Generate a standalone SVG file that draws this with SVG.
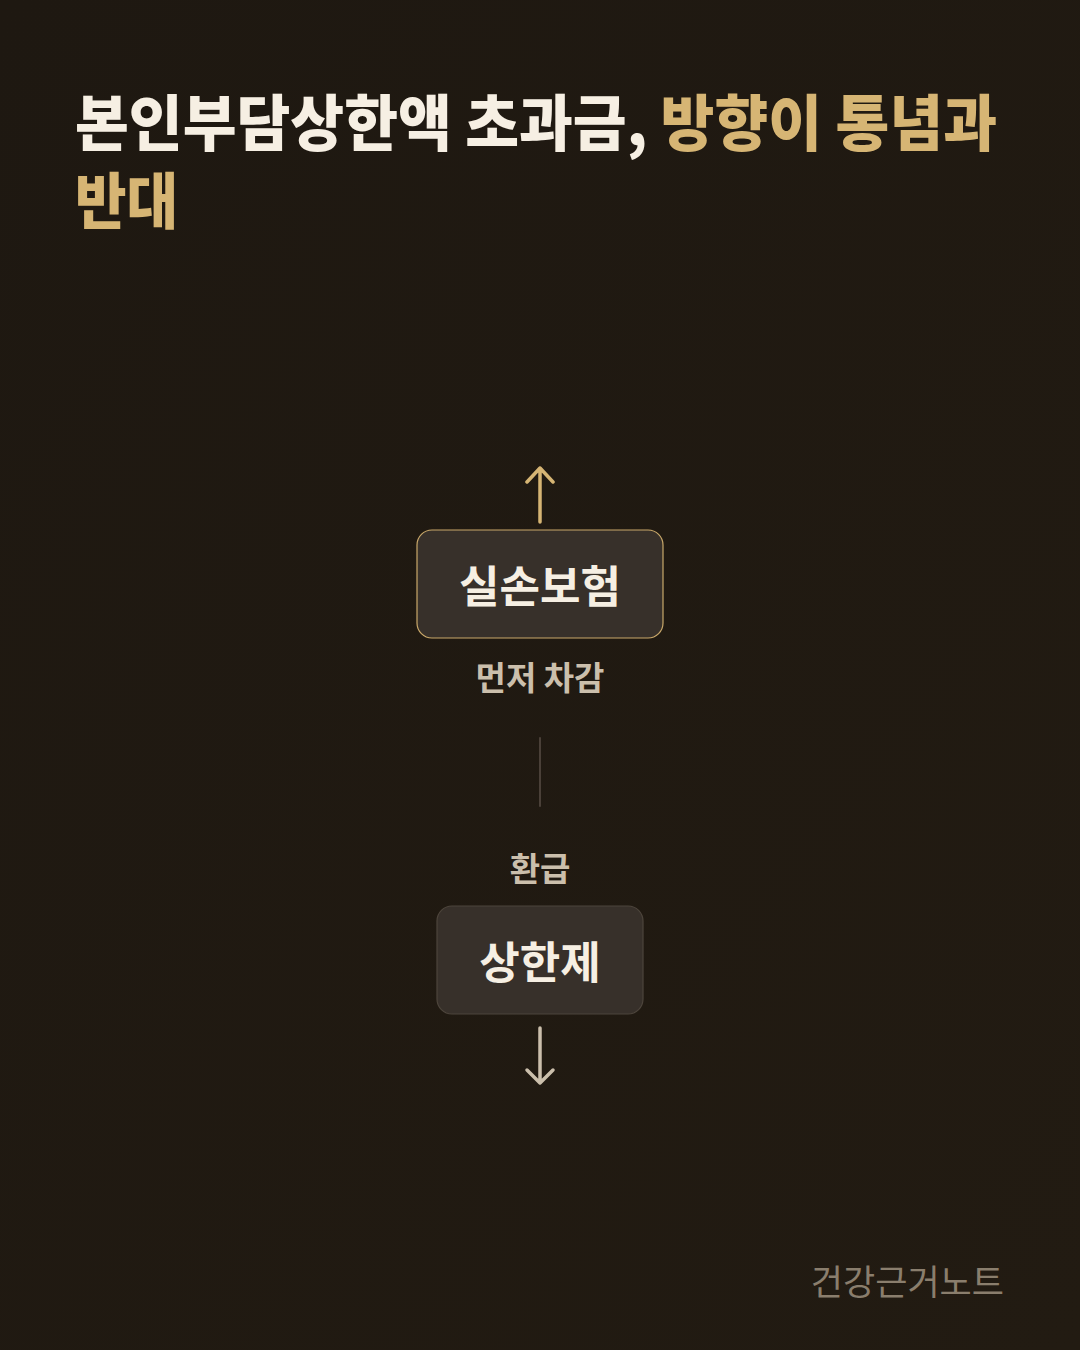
<svg xmlns="http://www.w3.org/2000/svg" width="1080" height="1350" viewBox="0 0 1080 1350">
<defs>
<linearGradient id="bg" x1="0" y1="0" x2="1" y2="1">
<stop offset="0" stop-color="#1e1811"/>
<stop offset="1" stop-color="#221b12"/>
</linearGradient>
<style>
.t{font-family:"Noto Sans CJK KR","Noto Sans",sans-serif;font-weight:900;font-size:61px}
.w{fill:#f6efe3}
.g{fill:#d6b574}
.nl{font-family:"Noto Sans CJK KR","Noto Sans",sans-serif;font-weight:700;font-size:44px;fill:#f6efe3;text-anchor:middle}
.el{font-family:"Noto Sans CJK KR","Noto Sans",sans-serif;font-weight:700;font-size:33px;fill:#cbbfac;text-anchor:middle}
.box{fill:#37302a;stroke-width:1.2}
</style>
</defs>
<rect width="1080" height="1350" fill="url(#bg)"/>
<g id="title">
<text class="t" x="75" y="146" textLength="922" lengthAdjust="spacingAndGlyphs"><tspan class="w">본인부담상한액 초과금, </tspan><tspan class="g">방향이 통념과</tspan></text>
<text class="t g" x="75" y="224" textLength="103" lengthAdjust="spacingAndGlyphs">반대</text>
</g>
<g id="connectors" fill="none" stroke-linecap="round" stroke-linejoin="round">
<path d="M540 522 V468 M527 482 L540 468 L553 482" stroke="#d6b574" stroke-width="3.5"/>
<line x1="540" y1="738" x2="540" y2="806" stroke="#4a4038" stroke-width="2"/>
<path d="M540 1028 V1083 M527 1070 L540 1083 L553 1070" stroke="#cbbfac" stroke-width="3.5"/>
</g>
<g id="node-silson">
<rect class="box" x="417" y="530" width="246" height="108" rx="15" stroke="#c9a86a"/>
<text class="nl" x="540" y="603">실손보험</text>
</g>
<g id="label-first">
<text class="el" x="540" y="690">먼저 차감</text>
</g>
<g id="label-refund">
<text class="el" x="540" y="881">환급</text>
</g>
<g id="node-cap">
<rect class="box" x="437" y="906" width="206" height="108" rx="15" stroke="#4d453c"/>
<text class="nl" x="540" y="979">상한제</text>
</g>
<g id="footer">
<text x="1004" y="1295" text-anchor="end" style="font-family:'Noto Sans CJK KR','Noto Sans',sans-serif;font-weight:400;font-size:35px;fill:#8a7e6d">건강근거노트</text>
</g>
</svg>
